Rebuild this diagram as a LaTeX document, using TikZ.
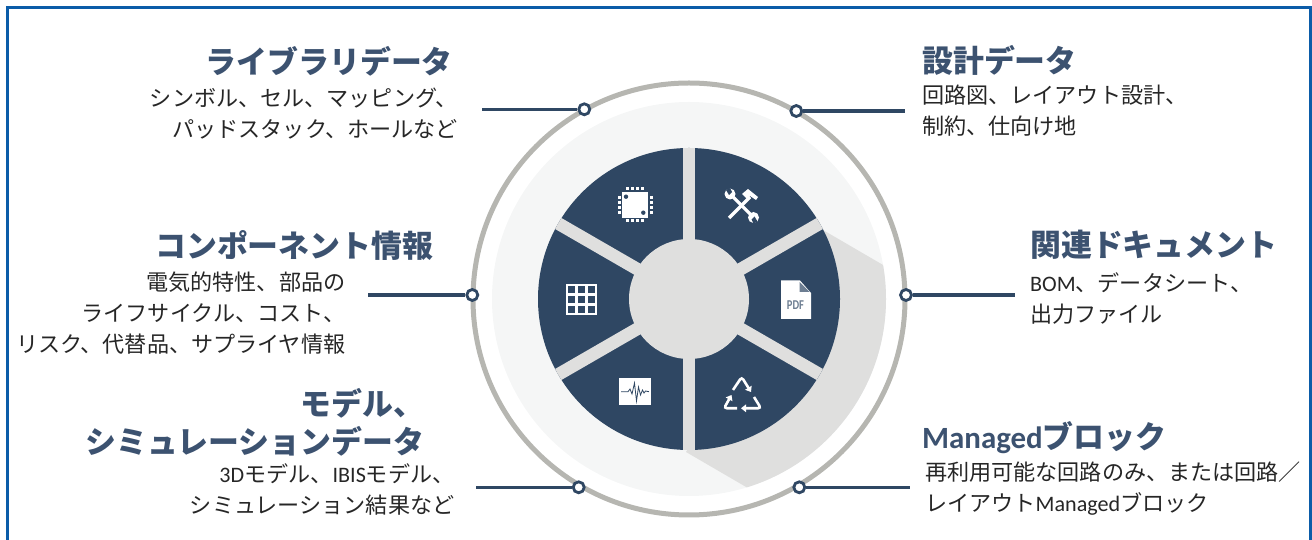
\documentclass[tikz,border=0pt]{standalone}
\usepackage{xcolor}
\usepackage{fontspec}
\setmainfont{Noto Sans CJK JP}
\newfontfamily\latfont{Carlito}
\usepackage{tikz}
\usetikzlibrary{positioning,arrows.meta}
\definecolor{frameblue}{HTML}{0B5CA8}
\definecolor{navy}{HTML}{2F4763}
\definecolor{titleblue}{HTML}{3C5270}
\definecolor{ringgray}{HTML}{B6B6B1}
\definecolor{palegray}{HTML}{F5F6F6}
\definecolor{spokegray}{HTML}{DFDFDE}
\newcommand{\lat}[1]{{\latfont #1}}
\tikzstyle{title}=[inner sep=0pt, text=titleblue, align=left, font=\fontsize{30.9}{38}\selectfont\bfseries,
        execute at begin node={\rule[-5pt]{0pt}{31pt}}]
\tikzstyle{body}=[inner sep=0pt, text=black!85, font=\fontsize{22.1}{31}\selectfont,
        execute at begin node={\rule{0pt}{20pt}}]
\tikzstyle{port}=[circle, draw=navy, fill=white, line width=2.8pt, inner sep=0pt, minimum size=11pt]
\tikzstyle{leader}=[-, navy, line width=3.2pt]
\tikzstyle{spoke}=[-, spokegray, line width=12.7pt]
\tikzstyle{bent}=[-{Triangle[length=5pt, width=7.5pt]}, rounded corners=3pt]

\begin{document}
\begin{tikzpicture}[x=1pt, y=1pt]
    \useasboundingbox (0,0) rectangle (1312,540);
    \draw[frameblue, line width=3pt] (7.5,0) -- (7.5,532.5) -- (1310,532.5) -- (1310,0);

    % rings and shadow
    \coordinate (hub) at (689,241);
    \fill[palegray] (hub) circle (197);
    \begin{scope}
        \clip (hub) circle (197);
        \fill[spokegray] (823,310) -- (950,236) -- (960,0) -- (820,10) -- (686,88) -- cycle;
    \end{scope}
    \draw[ringgray, line width=5pt] (hub) circle (216);

    % wheel
    \fill[navy] (hub) circle (151);
    \begin{scope}
        \clip (hub) circle (151);
        \foreach \a in {30,90,...,330}
            \draw[spoke] (hub) -- ++(\a:160);
    \end{scope}
    \fill[spokegray] (hub) circle (60);

    % chip
    \begin{scope}[shift={(635,335)}]
        \fill[white] (-13,-13) rectangle (13,13);
        \foreach \p in {-7.5,-2.5,2.5,7.5} {
            \fill[white] (\p-1.5,14.5) rectangle (\p+1.5,17.5);
            \fill[white] (\p-1.5,-17.5) rectangle (\p+1.5,-14.5);
            \fill[white] (-17.5,\p-1.5) rectangle (-14.5,\p+1.5);
            \fill[white] (14.5,\p-1.5) rectangle (17.5,\p+1.5);
        }
        \fill[navy] (-9,8.3) circle (2.2);
        \fill[navy] (8.3,-7.7) circle (2.2);
    \end{scope}

    % tools
    \begin{scope}[shift={(741,335)}]
        \draw[white, line width=3.2pt] (-12,-13) -- (9,8);
        \fill[white] (1,11) -- (7,16) -- (17,8) -- (15,5) -- (9,9) -- (6,6) -- cycle;
        \draw[white, line width=3.2pt] (-9,9) -- (11,-11);
        \fill[white] (-11,11) circle (5.5);
        \fill[white] (12.5,-12.5) circle (5.5);
        \fill[navy] (-15,15) -- (-12,10) -- (-9,13) -- (-11,17) -- cycle;
        \fill[navy] (16.5,-16.5) -- (13.5,-11.5) -- (10.5,-14.5) -- (12.5,-18.5) -- cycle;
    \end{scope}

    % table
    \begin{scope}[shift={(581.5,240.5)}]
        \fill[white] (-15.5,-15.5) rectangle (15.5,15.5);
        \foreach \i in {-10,0,10}
            \foreach \j in {-10,0,10}
                \fill[navy] (\i-3.8,\j-3.8) rectangle (\i+3.8,\j+3.8);
    \end{scope}

    % pdf sheet
    \fill[white] (781,221) -- (811,221) -- (811,247) -- (800,259.5) -- (781,259.5) -- cycle;
    \fill[navy!70] (799.5,258) -- (799.5,248) -- (809.5,248) -- cycle;
    \node (pdfText) [inner sep=0pt, xscale=.78, text=navy!70, font=\latfont\fontsize{13.5}{13.5}\selectfont\bfseries] at (795.5,235) {PDF};

    % waveform
    \fill[white] (619.3,135) rectangle (651.3,162.3);
    \draw[navy, line width=.8pt] (621,148.3) -- (628,148.3) -- (630,151) -- (632,146) -- (634.5,157) -- (636.5,139)
        -- (638.5,153) -- (640.5,145) -- (642.5,150) -- (644,147) -- (645.5,149) -- (649,148.3);

    % recycle
    \begin{scope}[shift={(742,145)}, white, line width=2.6pt]
        \draw[bent] (-9,5) -- (-.3,18) -- (9,3);
        \draw[bent] (12,-2) -- (19,-13.3) -- (-1,-13.3);
        \draw[bent] (-5,-13.3) -- (-18,-13.3) -- (-10.5,0);
    \end{scope}

    % ports on the ring
    \node (libPort) [port] at (584.3,430.7) {};
    \node (dsgPort) [port] at (796.3,429) {};
    \node (cmpPort) [port] at (472.3,245) {};
    \node (docPort) [port] at (906,245) {};
    \node (mdlPort) [port] at (578.7,52.7) {};
    \node (mngPort) [port] at (799.3,52.7) {};
    \coordinate (libEnd) at (482,430.7);
    \coordinate (dsgEnd) at (905,429);
    \coordinate (cmpEnd) at (368,245);
    \coordinate (docEnd) at (1015,245);
    \coordinate (mdlEnd) at (476,52.7);
    \coordinate (mngEnd) at (910,52.7);
    \draw[leader] (libPort) -- (libEnd);
    \draw[leader] (dsgPort) -- (dsgEnd);
    \draw[leader] (cmpPort) -- (cmpEnd);
    \draw[leader] (docPort) -- (docEnd);
    \draw[leader] (mdlPort) -- (mdlEnd);
    \draw[leader] (mngPort) -- (mngEnd);

    % left labels
    \node (libTitle) [title, anchor=north east] at (453,494) {ライブラリデータ};
    \node (libBody) [body, align=right, below=9pt of libTitle.south east, anchor=north east, xshift=5pt]
        {シンボル、セル、マッピング、\\パッドスタック、ホールなど};
    \node (cmpTitle) [title, anchor=north east] at (433.5,310) {コンポーネント情報};
    \node (cmpBody) [body, align=right, below=9pt of cmpTitle.south east, anchor=north east, xshift=-88pt]
        {電気的特性、部品の\\ライフサイクル、コスト、\\リスク、代替品、サプライヤ情報};
    \node (mdlTitle) [title, align=right, anchor=north east] at (424.5,152) {モデル、\\シミュレーションデータ};
    \node (mdlBody) [body, align=right, below=5pt of mdlTitle.south east, anchor=north east, xshift=30pt]
        {\lat{3D}モデル、\lat{IBIS}モデル、\\シミュレーション結果など};

    % right labels
    \node (dsgTitle) [title, anchor=north west] at (922,495) {設計データ};
    \node (dsgBody) [body, align=left, below=7pt of dsgTitle.south west, anchor=north west]
        {回路図、レイアウト設計、\\制約、仕向け地};
    \node (docTitle) [title, anchor=north west] at (1030,310) {関連ドキュメント};
    \node (docBody) [body, align=left, below=11pt of docTitle.south west, anchor=north west]
        {\lat{BOM}、データシート、\\出力ファイル};
    \node (mngTitle) [title, anchor=north west] at (922,119) {\lat{Managed}ブロック};
    \node (mngBody) [body, align=left, below=8pt of mngTitle.south west, anchor=north west, xshift=3pt]
        {再利用可能な回路のみ、または回路／\\レイアウト\lat{Managed}ブロック};
\end{tikzpicture}
\end{document}
